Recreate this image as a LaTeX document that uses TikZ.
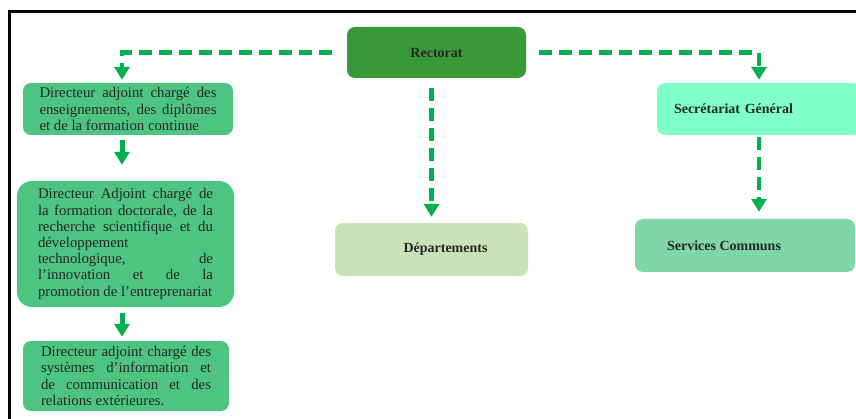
\documentclass[tikz,border=0pt]{standalone}
\usepackage{fontspec}
\setmainfont{Liberation Serif}
\usetikzlibrary{arrows.meta, positioning}
\definecolor{rectgreen}{RGB}{56,153,55}
\definecolor{dagreen}{RGB}{77,196,128}
\definecolor{deplight}{RGB}{201,226,185}
\definecolor{sgmint}{RGB}{128,255,200}
\definecolor{scgreen}{RGB}{127,214,166}
\definecolor{arrgreen}{RGB}{0,176,80}

\begin{document}
\begin{tikzpicture}[x=1pt, y=-1pt, >={Triangle[width=15pt,length=13pt]},
  box/.style={rounded corners=8pt, inner sep=0pt, text=black!85, font=\fontsize{14.8}{16.2}\selectfont},
  bbox/.style={box, font=\fontsize{14}{16}\selectfont\bfseries},
  para/.style={box, fill=dagreen, align=justify},
  link/.style={->, draw=arrgreen, line width=4.5pt, dash pattern=on 13pt off 7pt},
  plain/.style={->, draw=arrgreen, line width=5pt}]
  \useasboundingbox (0,0) rectangle (856,419);
  \clip (0,0) rectangle (856,419);
  \draw[line width=3pt] (9,440) |- (880,12);

  \node[bbox, fill=rectgreen, minimum width=179pt, minimum height=51pt] (rect) at (436.5,52.5) {Rectorat};
  \node[para, text width=177pt, minimum width=210pt, minimum height=52pt] (da1) at (128,109)
    {Directeur adjoint chargé des\linebreak enseignements, des diplômes\linebreak et de la formation continue};
  \node[para, rounded corners=15pt, text width=175pt, minimum width=217pt, minimum height=126pt] (da2) at (125.5,244)
    {Directeur Adjoint chargé de\linebreak la formation doctorale, de la\linebreak recherche scientifique et du\linebreak développement\newline technologique, de\linebreak l’innovation et de la\linebreak promotion de l’entreprenariat};
  \node[para, text width=170pt, minimum width=206pt, minimum height=70pt] (da3) at (126,376)
    {Directeur adjoint chargé des\linebreak systèmes d’information et\linebreak de communication et des\linebreak relations extérieures.};
  \node[bbox, fill=deplight, minimum width=193pt, minimum height=53pt] (dep) at (431.5,249.5) {\hspace*{28pt}Départements};
  \node[bbox, fill=sgmint, minimum width=204pt, minimum height=52pt, text width=170pt, align=left] (sg) at (759,109) {Secrétariat Général};
  \node[bbox, fill=scgreen, minimum width=220pt, minimum height=53pt] (sc) at (745,245.5) {Services Communs\hspace*{42pt}};

  \draw[link, shorten <=15pt, shorten >=3pt] (rect.west) -| ([xshift=-6pt]da1.north);
  \draw[link, shorten <=13pt, shorten >=3pt] (rect.east) -| (sg.north);
  \draw[link, shorten <=10pt, shorten >=6pt] (rect.south -| dep.north) -- (dep.north);
  \draw[link, shorten <=2pt, shorten >=7pt] (sg.south) -- (sg.south |- sc.north);
  \draw[plain, shorten <=5pt, shorten >=16pt] ([xshift=-6pt]da1.south) -- ([xshift=-6pt]da1.south |- da2.north);
  \draw[plain, shorten <=6pt, shorten >=4pt] ([xshift=-3.5pt]da2.south) -- ([xshift=-3.5pt]da2.south |- da3.north);
\end{tikzpicture}
\end{document}
